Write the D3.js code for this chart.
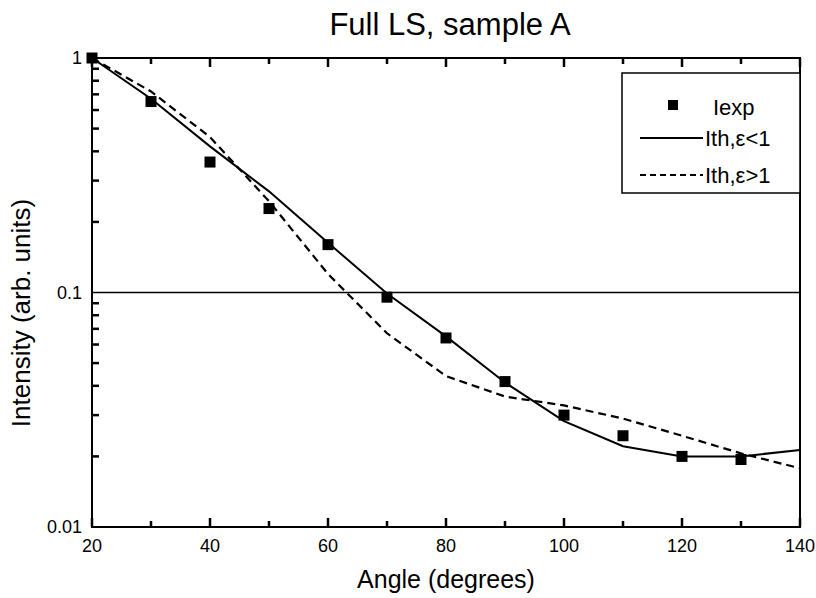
<!DOCTYPE html>
<html>
<head>
<meta charset="utf-8">
<script src="https://d3js.org/d3.v7.min.js"></script>
<style>
  body { margin: 0; background: #fff; }
  text { font-family: "Liberation Sans", Arial, sans-serif; fill: #000; }
</style>
</head>
<body>
<div id="chart"></div>
<script>
//data
var angles = [20, 30, 40, 50, 60, 70, 80, 90, 100, 110, 120, 130, 140];
var expAngles = [20, 30, 40, 50, 60, 70, 80, 90, 100, 110, 120, 130];
var iexp = [1, 0.652, 0.36, 0.228, 0.16, 0.0955, 0.064, 0.0417, 0.030, 0.0245, 0.020, 0.0194];
var ithLow = [1, 0.67, 0.42, 0.27, 0.163, 0.099, 0.065, 0.0413, 0.0283, 0.0221, 0.020, 0.020, 0.0213];
var ithHigh = [1, 0.72, 0.46, 0.245, 0.12, 0.067, 0.044, 0.036, 0.033, 0.029, 0.0245, 0.0206, 0.0178];
var xMajor = [20, 40, 60, 80, 100, 120, 140];
var xMinor = [30, 50, 70, 90, 110, 130];
var yMajor = [0.01, 0.1, 1];
var yLabels = ["0.01", "0.1", "1"];
var yMinor = [0.02, 0.03, 0.04, 0.05, 0.06, 0.07, 0.08, 0.09,
              0.2, 0.3, 0.4, 0.5, 0.6, 0.7, 0.8, 0.9];

var W = 816, H = 598;
//plot frame (pixels)
var mLeft = 92, mRight = 800, mTop = 58, mBottom = 527;

var svg, xScale, yScale;

function initialize(){
  svg = d3.select("#chart").append("svg")
    .attr("width", W)
    .attr("height", H);

  xScale = d3.scaleLinear().domain([20, 140]).range([mLeft, mRight]);
  yScale = d3.scaleLog().domain([0.01, 1]).range([mBottom, mTop]);

  drawFrame();
  drawLines();
  drawPoints();
  drawLegend();
  drawTitles();
  drawTicks();
}

function drawFrame(){
  //gridline at 0.1
  svg.append("line")
    .attr("x1", mLeft).attr("x2", mRight)
    .attr("y1", yScale(0.1)).attr("y2", yScale(0.1))
    .attr("stroke", "#000")
    .attr("stroke-width", 1.5);

  svg.append("path")
    .attr("d", "M" + mLeft + "," + mTop + "H" + mRight + "V" + mBottom + "H" + mLeft + "Z")
    .attr("fill", "none")
    .attr("stroke", "#000")
    .attr("stroke-width", 2);

  //tick labels
  svg.append("g").selectAll("text")
    .data(xMajor)
    .enter()
    .append("text")
    .attr("x", function(d){ return xScale(d); })
    .attr("y", mBottom + 25)
    .attr("text-anchor", "middle")
    .attr("font-size", 18)
    .text(d3.format("d"));

  svg.append("g").selectAll("text")
    .data(yMajor)
    .enter()
    .append("text")
    .attr("x", mLeft - 10)
    .attr("y", function(d){ return yScale(d) + 6; })
    .attr("text-anchor", "end")
    .attr("font-size", 18)
    .text(function(d, i){ return yLabels[i]; });
}

//inward tick marks
function xTicks(vals, y0, len){
  svg.append("g").selectAll("path")
    .data(vals)
    .enter()
    .append("path")
    .attr("d", function(d){
      return "M" + xScale(d) + "," + y0 + "v" + len;
    })
    .attr("fill", "none")
    .attr("stroke", "#000")
    .attr("stroke-width", 2.5);
}

function drawTicks(){
  xTicks(xMajor, mBottom, -9);
  xTicks(xMinor, mBottom, -6);
  xTicks(xMajor, mTop, 9);
  xTicks(xMinor, mTop, 6);

  svg.append("g").selectAll("path")
    .data(yMinor)
    .enter()
    .append("path")
    .attr("d", function(d){
      return "M" + mLeft + "," + yScale(d) + "h7";
    })
    .attr("fill", "none")
    .attr("stroke", "#000")
    .attr("stroke-width", 2.5);
}

function drawLines(){
  var line = d3.line()
    .x(function(d){ return xScale(d[0]); })
    .y(function(d){ return yScale(d[1]); });

  svg.append("path")
    .datum(d3.zip(angles, ithLow))
    .attr("d", line)
    .attr("fill", "none")
    .attr("stroke", "#000")
    .attr("stroke-width", 2);

  svg.append("path")
    .datum(d3.zip(angles, ithHigh))
    .attr("d", line)
    .attr("fill", "none")
    .attr("stroke", "#000")
    .attr("stroke-width", 2.2)
    .attr("stroke-dasharray", "8,5");
}

function drawPoints(){
  var s = 11;
  svg.selectAll(".pt")
    .data(d3.zip(expAngles, iexp))
    .enter()
    .append("rect")
    .attr("class", "pt")
    .attr("x", function(d){ return xScale(d[0]) - s / 2; })
    .attr("y", function(d){ return yScale(d[1]) - s / 2; })
    .attr("width", s)
    .attr("height", s)
    .attr("fill", "#000");
}

function drawLegend(){
  var g = svg.append("g");

  g.append("rect")
    .attr("x", 622).attr("y", 73)
    .attr("width", mRight - 622).attr("height", 120)
    .attr("fill", "#fff")
    .attr("stroke", "#000")
    .attr("stroke-width", 1.5);

  g.append("rect")
    .attr("x", 668).attr("y", 100)
    .attr("width", 10).attr("height", 10)
    .attr("fill", "#000");

  g.append("line")
    .attr("x1", 640).attr("x2", 703)
    .attr("y1", 138).attr("y2", 138)
    .attr("stroke", "#000").attr("stroke-width", 2);

  g.append("line")
    .attr("x1", 640).attr("x2", 703)
    .attr("y1", 175).attr("y2", 175)
    .attr("stroke", "#000").attr("stroke-width", 2)
    .attr("stroke-dasharray", "6,4");

  var labels = ["Iexp", "Ith,\u03b5<1", "Ith,\u03b5>1"];
  var xs = [713, 705, 705];
  var ys = [115, 146, 183];
  labels.forEach(function(t, i){
    g.append("text")
      .attr("x", xs[i]).attr("y", ys[i])
      .attr("font-size", 22)
      .text(t);
  });
}

function drawTitles(){
  svg.append("text")
    .attr("x", 450).attr("y", 35)
    .attr("text-anchor", "middle")
    .attr("font-size", 31)
    .text("Full LS, sample A");

  svg.append("text")
    .attr("x", 446).attr("y", 588)
    .attr("text-anchor", "middle")
    .attr("font-size", 25)
    .text("Angle (degrees)");

  svg.append("text")
    .attr("transform", "translate(30,313) rotate(-90)")
    .attr("text-anchor", "middle")
    .attr("font-size", 26)
    .text("Intensity (arb. units)");
}

initialize();
</script>
</body>
</html>
